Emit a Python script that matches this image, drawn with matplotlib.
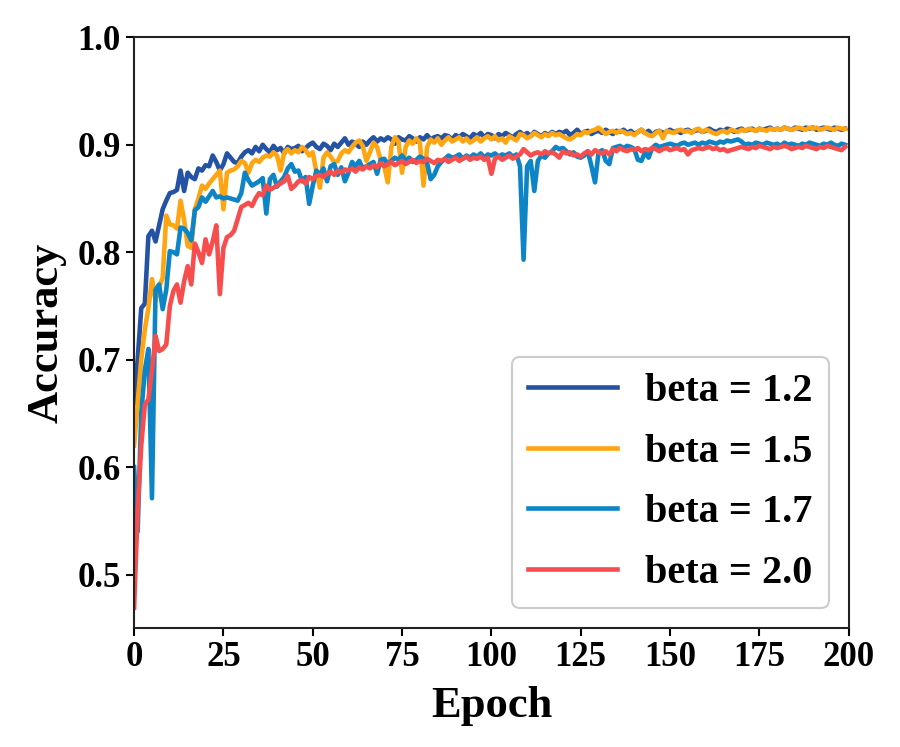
import matplotlib
matplotlib.use("Agg")
import matplotlib.pyplot as plt
import numpy as np

# accuracy per epoch
epochs = list(range(200))

acc_b12 = [
    0.660, 0.700, 0.748, 0.752, 0.815, 0.820, 0.810, 0.825, 0.840, 0.848,
    0.855, 0.856, 0.858, 0.876, 0.857, 0.874, 0.870, 0.868, 0.878, 0.876,
    0.881, 0.880, 0.890, 0.884, 0.876, 0.882, 0.892, 0.888, 0.884, 0.883,
    0.889, 0.893, 0.895, 0.892, 0.898, 0.894, 0.900, 0.896, 0.893, 0.899,
    0.895, 0.897, 0.892, 0.898, 0.896, 0.897, 0.899, 0.894, 0.897, 0.900,
    0.902, 0.898, 0.896, 0.901, 0.899, 0.895, 0.901, 0.898, 0.902, 0.906,
    0.900, 0.903, 0.901, 0.898, 0.903, 0.900, 0.904, 0.907, 0.903, 0.906,
    0.904, 0.907, 0.905, 0.901, 0.907, 0.905, 0.904, 0.908, 0.906, 0.903,
    0.907, 0.905, 0.909, 0.905, 0.907, 0.908, 0.906, 0.909, 0.908, 0.905,
    0.909, 0.907, 0.910, 0.908, 0.906, 0.910, 0.908, 0.911, 0.907, 0.910,
    0.909, 0.906, 0.910, 0.908, 0.911, 0.909, 0.907, 0.910, 0.912, 0.909,
    0.911, 0.908, 0.912, 0.910, 0.908, 0.911, 0.909, 0.912, 0.910, 0.912,
    0.911, 0.913, 0.909, 0.911, 0.914, 0.910, 0.912, 0.913, 0.910, 0.912,
    0.913, 0.911, 0.914, 0.912, 0.910, 0.913, 0.912, 0.914, 0.911, 0.913,
    0.910, 0.912, 0.914, 0.911, 0.913, 0.909, 0.912, 0.913, 0.911, 0.912,
    0.914, 0.912, 0.913, 0.911, 0.913, 0.914, 0.912, 0.913, 0.914, 0.912,
    0.913, 0.915, 0.913, 0.912, 0.914, 0.913, 0.915, 0.914, 0.912, 0.914,
    0.915, 0.913, 0.914, 0.915, 0.913, 0.915, 0.914, 0.915, 0.916, 0.914,
    0.915, 0.914, 0.916, 0.915, 0.914, 0.916, 0.915, 0.914, 0.916, 0.915,
    0.916, 0.914, 0.915, 0.916, 0.915, 0.914, 0.916, 0.915, 0.914, 0.915,
]

acc_b15 = [
    0.620, 0.660, 0.700, 0.728, 0.748, 0.775, 0.755, 0.768, 0.776, 0.834,
    0.826, 0.825, 0.822, 0.848, 0.830, 0.806, 0.804, 0.840, 0.850, 0.862,
    0.859, 0.864, 0.868, 0.872, 0.876, 0.840, 0.874, 0.876, 0.877, 0.880,
    0.885, 0.883, 0.874, 0.883, 0.886, 0.884, 0.888, 0.890, 0.889, 0.893,
    0.890, 0.876, 0.893, 0.896, 0.892, 0.895, 0.893, 0.898, 0.895, 0.890,
    0.893, 0.875, 0.860, 0.888, 0.893, 0.889, 0.884, 0.885, 0.892, 0.895,
    0.893, 0.898, 0.902, 0.904, 0.899, 0.885, 0.893, 0.902, 0.898, 0.886,
    0.880, 0.865, 0.898, 0.907, 0.903, 0.874, 0.898, 0.904, 0.901, 0.906,
    0.902, 0.862, 0.898, 0.905, 0.902, 0.906, 0.900, 0.904, 0.907, 0.903,
    0.905, 0.907, 0.903, 0.906, 0.902, 0.904, 0.907, 0.903, 0.906, 0.908,
    0.905, 0.908, 0.904, 0.906, 0.902, 0.908, 0.906, 0.904, 0.910, 0.909,
    0.906, 0.908, 0.911, 0.909, 0.907, 0.910, 0.908, 0.911, 0.909, 0.910,
    0.908, 0.906, 0.905, 0.907, 0.910, 0.909, 0.912, 0.911, 0.913, 0.914,
    0.916, 0.913, 0.910, 0.912, 0.913, 0.911, 0.913, 0.912, 0.910, 0.911,
    0.909, 0.912, 0.914, 0.911, 0.909, 0.908, 0.911, 0.913, 0.906, 0.913,
    0.912, 0.911, 0.913, 0.914, 0.912, 0.913, 0.911, 0.914, 0.915, 0.912,
    0.914, 0.913, 0.911, 0.910, 0.912, 0.913, 0.911, 0.914, 0.913, 0.912,
    0.914, 0.913, 0.915, 0.914, 0.913, 0.915, 0.914, 0.913, 0.915, 0.914,
    0.915, 0.914, 0.916, 0.915, 0.914, 0.915, 0.916, 0.915, 0.914, 0.916,
    0.915, 0.916, 0.914, 0.915, 0.916, 0.915, 0.914, 0.916, 0.915, 0.915,
]

acc_b17 = [
    0.600, 0.540, 0.650, 0.690, 0.710, 0.571, 0.765, 0.770, 0.747, 0.765,
    0.801, 0.800, 0.798, 0.823, 0.822, 0.818, 0.811, 0.839, 0.842, 0.851,
    0.847, 0.852, 0.857, 0.851, 0.852, 0.850, 0.851, 0.850, 0.849, 0.848,
    0.855, 0.874, 0.867, 0.862, 0.864, 0.866, 0.869, 0.836, 0.868, 0.872,
    0.861, 0.866, 0.870, 0.878, 0.882, 0.875, 0.876, 0.866, 0.870, 0.845,
    0.862, 0.876, 0.872, 0.878, 0.866, 0.880, 0.882, 0.872, 0.879, 0.866,
    0.874, 0.884, 0.880, 0.885, 0.878, 0.880, 0.882, 0.884, 0.873, 0.886,
    0.887, 0.882, 0.885, 0.888, 0.886, 0.890, 0.885, 0.888, 0.884, 0.886,
    0.889, 0.887, 0.883, 0.868, 0.872, 0.880, 0.884, 0.887, 0.890, 0.888,
    0.889, 0.891, 0.887, 0.890, 0.888, 0.891, 0.889, 0.892, 0.888, 0.891,
    0.890, 0.892, 0.889, 0.891, 0.890, 0.892, 0.889, 0.891, 0.880, 0.793,
    0.880, 0.885, 0.857, 0.885, 0.890, 0.888, 0.892, 0.894, 0.898, 0.896,
    0.897, 0.894, 0.891, 0.893, 0.889, 0.888, 0.890, 0.894, 0.880, 0.865,
    0.893, 0.895, 0.885, 0.882, 0.897, 0.898, 0.899, 0.897, 0.899, 0.898,
    0.896, 0.886, 0.885, 0.893, 0.888, 0.897, 0.900, 0.898, 0.899, 0.900,
    0.901, 0.900, 0.899, 0.901, 0.902, 0.900, 0.901, 0.902, 0.900, 0.902,
    0.901, 0.903, 0.902, 0.901, 0.903, 0.902, 0.904, 0.903, 0.904, 0.905,
    0.903, 0.900, 0.901, 0.900, 0.902, 0.901, 0.900, 0.902, 0.901, 0.900,
    0.901, 0.899, 0.902, 0.900, 0.901, 0.900, 0.899, 0.901, 0.900, 0.902,
    0.901, 0.900, 0.899, 0.901, 0.900, 0.902, 0.900, 0.899, 0.901, 0.900,
]

acc_b20 = [
    0.469, 0.560, 0.620, 0.658, 0.663, 0.690, 0.722, 0.708, 0.710, 0.714,
    0.750, 0.764, 0.770, 0.753, 0.773, 0.787, 0.770, 0.808, 0.800, 0.790,
    0.812, 0.798, 0.810, 0.825, 0.761, 0.804, 0.814, 0.816, 0.820, 0.831,
    0.842, 0.844, 0.846, 0.843, 0.850, 0.855, 0.853, 0.862, 0.858, 0.860,
    0.862, 0.864, 0.866, 0.871, 0.859, 0.862, 0.866, 0.867, 0.864, 0.870,
    0.868, 0.871, 0.872, 0.870, 0.873, 0.875, 0.872, 0.876, 0.874, 0.877,
    0.876, 0.878, 0.875, 0.879, 0.877, 0.880, 0.878, 0.881, 0.879, 0.883,
    0.880, 0.882, 0.884, 0.881, 0.883, 0.885, 0.882, 0.884, 0.886, 0.883,
    0.885, 0.884, 0.887, 0.885, 0.883, 0.886, 0.885, 0.887, 0.884, 0.886,
    0.888, 0.885, 0.887, 0.889, 0.886, 0.888, 0.887, 0.889, 0.886, 0.888,
    0.873, 0.887, 0.889, 0.886, 0.888, 0.890, 0.887, 0.889, 0.891, 0.896,
    0.893, 0.890, 0.892, 0.893, 0.891, 0.894, 0.892, 0.893, 0.891, 0.888,
    0.894, 0.892, 0.893, 0.890, 0.891, 0.889, 0.892, 0.894, 0.891, 0.895,
    0.893, 0.892, 0.894, 0.891, 0.896, 0.894, 0.897, 0.895, 0.894, 0.896,
    0.895, 0.897, 0.894, 0.896, 0.895, 0.897, 0.896, 0.894, 0.896, 0.897,
    0.895, 0.896, 0.897, 0.895, 0.896, 0.891, 0.895, 0.896, 0.897, 0.896,
    0.897, 0.898, 0.896, 0.897, 0.895, 0.896, 0.894, 0.895, 0.896, 0.897,
    0.898, 0.897, 0.896, 0.898, 0.897, 0.899, 0.898, 0.897, 0.896, 0.898,
    0.897, 0.898, 0.899, 0.898, 0.896, 0.897, 0.898, 0.897, 0.899, 0.898,
    0.897, 0.896, 0.898, 0.897, 0.899, 0.898, 0.897, 0.896, 0.895, 0.898,
]

labels = ['beta = 1.2', 'beta = 1.5', 'beta = 1.7', 'beta = 2.0']
colors = ['#2452a4', '#ffa512', '#0c84c6', '#f74d4d']

plt.rcParams['font.family'] = ['Liberation Serif', 'DejaVu Serif']
plt.rcParams['font.weight'] = 'bold'

fig = plt.figure(figsize=(9, 7.47), dpi=100)
ax = fig.add_axes([0.149, 0.159, 0.794, 0.791])

for acc, lab, col in zip([acc_b12, acc_b15, acc_b17, acc_b20], labels, colors):
    ax.plot(epochs, acc, color=col, lw=3.3, label=lab)

ax.set_xlim(0, 200)
ax.set_ylim(0.45, 1.0)
ax.set_xticks(np.arange(0, 201, 25))
ax.set_yticks([0.5, 0.6, 0.7, 0.8, 0.9, 1.0])
ax.tick_params(labelsize=25, width=1.5, length=6)
for lbl in ax.get_xticklabels() + ax.get_yticklabels():
    lbl.set_fontweight('bold')
for sp in ax.spines.values():
    sp.set_linewidth(1.5)
    sp.set_color('#222222')

ax.set_xlabel('Epoch', fontsize=32, fontweight='bold', labelpad=8)
ax.set_ylabel('Accuracy', fontsize=32, fontweight='bold', labelpad=8)

leg = ax.legend(loc='lower right', fontsize=29, handlelength=2.2,
                handletextpad=0.7, labelspacing=0.58, borderpad=0.4,
                fancybox=True, framealpha=1.0)
leg.get_frame().set_edgecolor('#cccccc')
leg.get_frame().set_linewidth(1.5)

plt.savefig('out.png', dpi=100)
